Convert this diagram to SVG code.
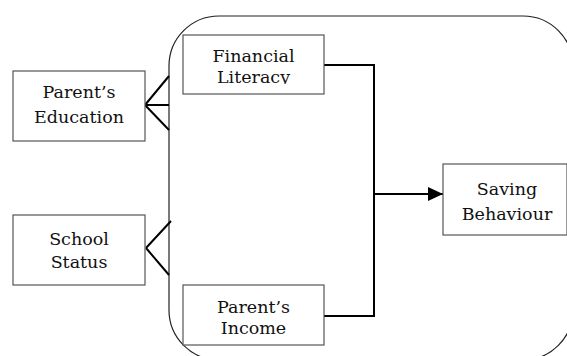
<svg xmlns="http://www.w3.org/2000/svg" width="567" height="356" viewBox="0 0 567 356">
<style>
.box{fill:#fff;stroke:#555;stroke-width:1.2}
.frame{fill:none;stroke:#222;stroke-width:1.2}
.t{font-family:"DejaVu Serif","Liberation Serif",serif;font-size:17.5px;fill:#111;text-anchor:middle}
.c{fill:none;stroke:#000;stroke-width:2}
</style>
<defs>
<marker id="ah" markerWidth="15" markerHeight="14" refX="15" refY="7" orient="auto" markerUnits="userSpaceOnUse">
<path d="M0,0 L15,7 L0,14 Z" fill="#000"/>
</marker>
<clipPath id="clipFL"><rect x="183" y="35" width="141" height="49"/></clipPath>
</defs>
<rect class="frame" x="169" y="16" width="404" height="344" rx="50" ry="50"/>
<g id="connectors">
<path class="c" d="M145,105 L169,76 M145,105 L169,105 M145,105 L169,130"/>
<path class="c" d="M146,248 L171,221 M146,248 L169,275"/>
<path class="c" d="M324,65 L374,65 L374,316 L324,316"/>
<path class="c" d="M374,194 L443,194" marker-end="url(#ah)"/>
</g>
<g id="parents-education">
<rect class="box" x="13" y="71" width="132" height="70"/>
<text class="t" x="79" y="98">Parent’s</text>
<text class="t" x="79" y="123">Education</text>
</g>
<g id="school-status">
<rect class="box" x="13" y="215" width="132" height="70"/>
<text class="t" x="79" y="245">School</text>
<text class="t" x="79" y="268">Status</text>
</g>
<g id="financial-literacy">
<rect class="box" x="183" y="35" width="141" height="59"/>
<g clip-path="url(#clipFL)">
<text class="t" x="253.5" y="62">Financial</text>
<text class="t" x="253.5" y="83">Literacy</text>
</g>
</g>
<g id="parents-income">
<rect class="box" x="183" y="285" width="141" height="60"/>
<text class="t" x="253.5" y="313">Parent’s</text>
<text class="t" x="253.5" y="334">Income</text>
</g>
<g id="saving-behaviour">
<rect class="box" x="443" y="164" width="124" height="71"/>
<text class="t" x="507" y="195">Saving</text>
<text class="t" x="507" y="220">Behaviour</text>
</g>
</svg>
